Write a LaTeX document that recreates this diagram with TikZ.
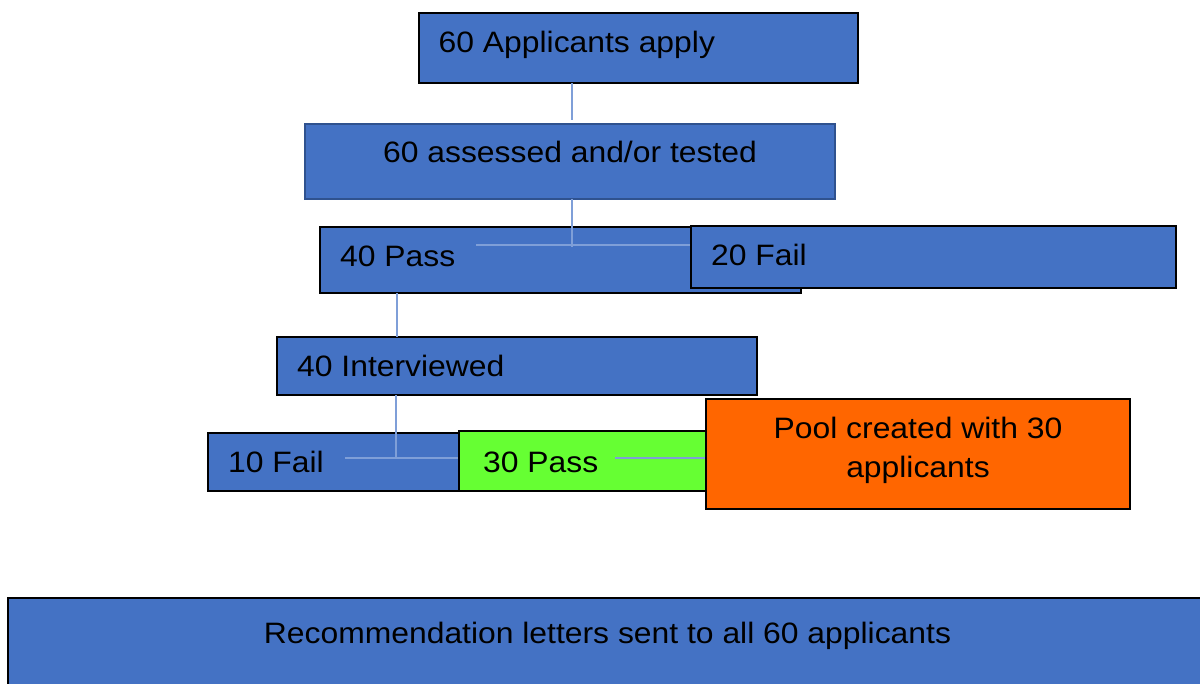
\documentclass[tikz,border=0pt]{standalone}
\usepackage{fontspec}
\setmainfont{Liberation Sans}[FakeStretch=1.08]
\definecolor{boxblue}{HTML}{4472C4}
\definecolor{boxedge}{HTML}{2F528F}
\definecolor{linkblue}{HTML}{7F9FD8}
\definecolor{passgreen}{HTML}{66FF33}
\definecolor{poolorange}{HTML}{FF6600}
\tikzset{
  stage/.style={draw=black, line width=2pt, fill=boxblue, inner sep=0pt, rectangle},
  txt/.style={font=\fontsize{29.5}{39}\selectfont, text=black, inner sep=0pt},
  link/.style={draw=linkblue, line width=1.1pt}
}
\begin{document}
\begin{tikzpicture}[x=1pt, y=-1pt]
\useasboundingbox (0,0) rectangle (1200,684);
\clip (0,0) rectangle (1200,684);

% first stage and assessment
\node[stage, minimum width=439pt, minimum height=70pt] (apply) at (638.5,48) {};
\node[stage, draw=boxedge, minimum width=530pt, minimum height=75pt] (assess) at (570,161.5) {};
\coordinate (a1) at (572,83);
\coordinate (a2) at (572,120);
\draw[link] (a1) -- (a2);

% pass / fail after assessment
\node[stage, minimum width=481pt, minimum height=66pt] (pass40) at (560.5,260) {};
\coordinate (b1) at (572,199);
\coordinate (b2) at (572,247);
\coordinate (b3) at (476,245);
\coordinate (b4) at (690,245);
\draw[link] (b1) -- (b2);
\draw[link] (b3) -- (b4);
\node[stage, minimum width=485pt, minimum height=62pt] (fail20) at (933.5,257) {};

% interview
\node[stage, minimum width=480pt, minimum height=58pt] (interv) at (517,366) {};
\coordinate (c1) at (397,293);
\coordinate (c2) at (397,337);
\draw[link] (c1) -- (c2);

% interview outcome
\node[stage, minimum width=289pt, minimum height=58pt] (fail10) at (352.5,462) {};
\coordinate (d1) at (396,395);
\coordinate (d2) at (396,459);
\coordinate (d3) at (345,458);
\draw[link] (d1) -- (d2);
\node[stage, fill=passgreen, minimum width=261pt, minimum height=60pt] (pass30) at (589.5,461) {};
\draw[link] (d3) -- (pass30.west |- d3);
\node[stage, fill=poolorange, minimum width=424pt, minimum height=110pt] (pool) at (918,454) {};
\coordinate (e1) at (615,458);
\draw[link] (e1) -- (pool.west |- e1);

% letters to everyone
\node[stage, minimum width=1204pt, minimum height=102pt] (letters) at (610,649) {};

% labels
\node[txt, anchor=base west] (apply-t) at (438.5,53) {60 Applicants apply};
\node[txt, anchor=base] (assess-t) at (570,163) {60 assessed and/or tested};
\node[txt, anchor=base west] (pass40-t) at (340,267) {40 Pass};
\node[txt, anchor=base west] (fail20-t) at (711,266) {20 Fail};
\node[txt, anchor=base west] (interv-t) at (297,377) {40 Interviewed};
\node[txt, anchor=base west] (fail10-t) at (228,473) {10 Fail};
\node[txt, anchor=base west] (pass30-t) at (483,472) {30 Pass};
\node[txt, anchor=base, align=center] (pool-t) at (918,478) {Pool created with 30\\applicants};
\node[txt, anchor=base] (letters-t) at (607.5,643) {Recommendation letters sent to all 60 applicants};
\end{tikzpicture}
\end{document}
